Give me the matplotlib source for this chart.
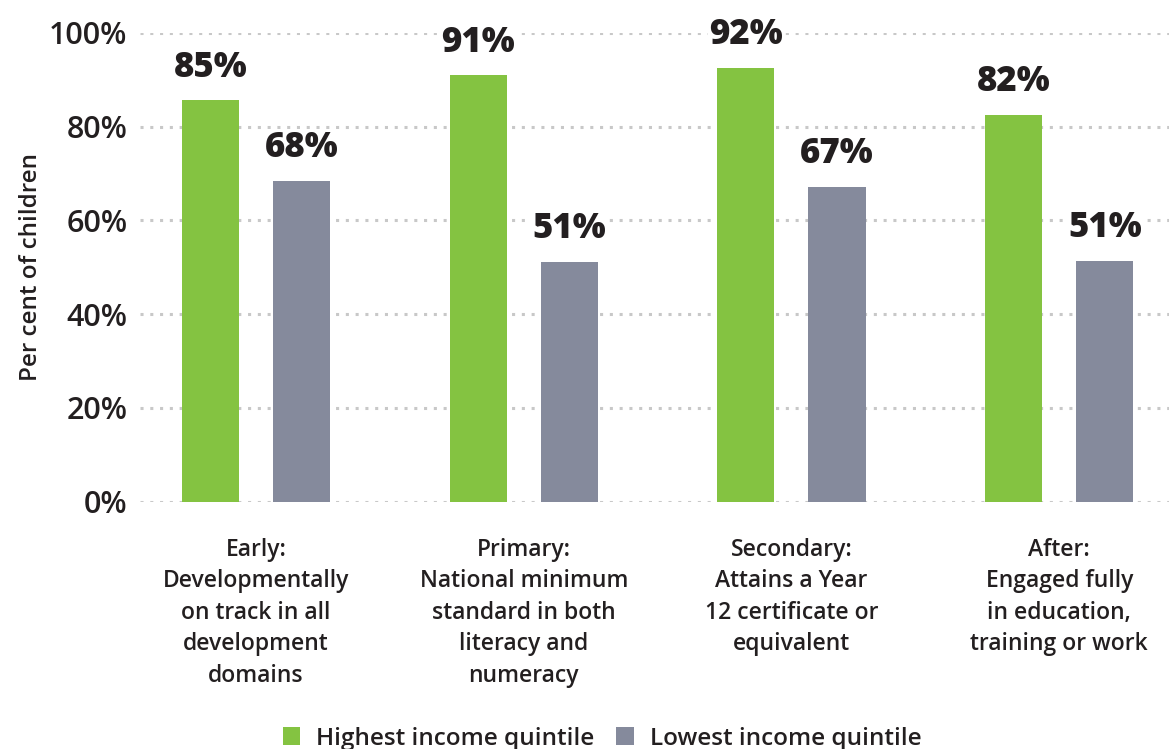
import matplotlib
matplotlib.use("Agg")
import matplotlib.pyplot as plt
import numpy as np
from matplotlib.patches import Patch

categories = [
    "Early:\nDevelopmentally\non track in all\ndevelopment\ndomains",
    "Primary:\nNational minimum\nstandard in both\nliteracy and\nnumeracy",
    "Secondary:\nAttains a Year\n12 certificate or\nequivalent",
    "After:\nEngaged fully\nin education,\ntraining or work",
]
highest = [85.6, 91.0, 92.6, 82.6]
lowest = [68.4, 51.2, 67.2, 51.4]
highest_labels = ["85%", "91%", "92%", "82%"]
lowest_labels = ["68%", "51%", "67%", "51%"]
yticks = [0, 20, 40, 60, 80, 100]
ytick_labels = ["0%", "20%", "40%", "60%", "80%", "100%"]

GREEN = "#84c341"
GREY = "#858a9c"
TXT = "#231f20"
FONT = ["Open Sans", "DejaVu Sans"]
plt.rcParams["font.family"] = FONT

fig = plt.figure(figsize=(11.69, 7.49), dpi=100)
ax = fig.add_axes([0.1198, 0.3302, 0.8802, 0.6258])

x = np.arange(len(categories))
w = 0.213
off = 0.17
ax.bar(x - off, highest, w, color=GREEN, zorder=3)
ax.bar(x + off, lowest, w, color=GREY, zorder=3)

for xs, vals, labs in ((x - off, highest, highest_labels), (x + off, lowest, lowest_labels)):
    for xi, v, lab in zip(xs, vals, labs):
        ax.annotate(lab, (xi, v), xytext=(0, 17), textcoords="offset points",
                    ha="center", va="baseline", fontsize=25, fontweight="extra bold", color=TXT,
                    bbox=dict(facecolor="white", edgecolor="none", pad=1), zorder=4,
                    annotation_clip=False)

ax.set_ylim(0, 100)
ax.set_xlim(-0.433, 3.41)
ax.set_yticks(yticks)
ax.set_yticklabels(ytick_labels, fontsize=22, color=TXT, fontweight="semibold")
ax.tick_params(axis="y", length=0, pad=9)
ax.set_xticks(x)
ax.set_xticklabels(categories, fontsize=16.5, color=TXT, fontweight="semibold", linespacing=1.42)
ax.tick_params(axis="x", length=0, pad=26)
ax.grid(axis="y", color="#c8c8c8", linestyle=(0, (1, 2.2)), linewidth=2.2, zorder=0)
for s in ax.spines.values():
    s.set_visible(False)

ax.set_ylabel("Per cent of children", fontsize=17.5, color=TXT, fontweight="semibold")
ax.yaxis.set_label_coords(-0.094, 0.5)

handles = [Patch(facecolor=GREEN, edgecolor="none"), Patch(facecolor=GREY, edgecolor="none")]
fig.legend(handles, ["Highest income quintile", "Lowest income quintile"],
           loc="center", bbox_to_anchor=(0.515, 0.014), ncol=2, frameon=False,
           prop=dict(family=FONT, size=17.5, weight="semibold"),
           handlelength=0.72, handleheight=0.72, handletextpad=0.65,
           columnspacing=0.9, labelcolor=TXT)

fig.savefig("out.png", dpi=100)
